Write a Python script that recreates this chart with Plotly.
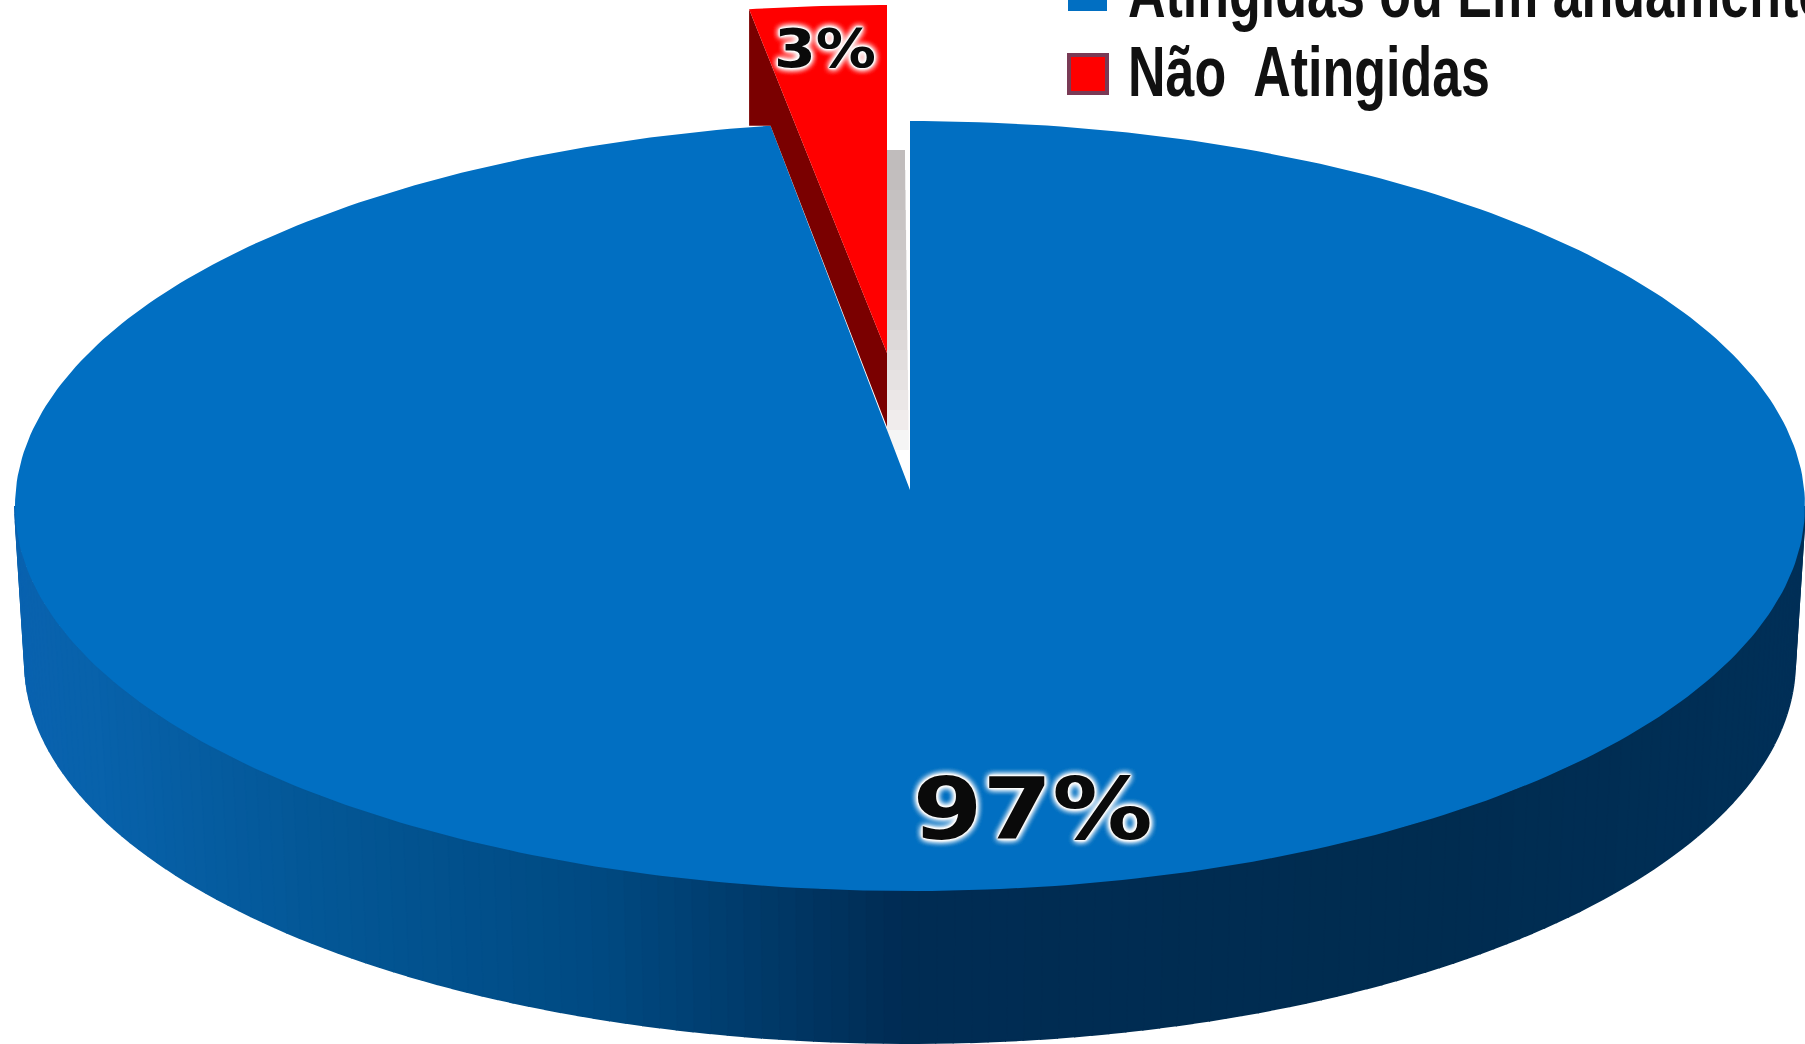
import numpy as np
import plotly.graph_objects as go

categories = ["Atingidas ou Em andamento", "Não  Atingidas"]
values = [97, 3]
colors = ["#016fc2", "#ff0000"]

W, H = 1805, 1044
CX, CY, A, B = 910, 506, 895, 385
APEX = (910, 490)
FORESHORTEN = 0.83
BASE = (910, 662, 885, 381)
SIDE_STOPS = [(14, (10, 98, 176)), (100, (8, 98, 171)), (300, (4, 88, 152)), (600, (0, 74, 130)),
              (900, (0, 44, 84)), (1420, (0, 44, 80)), (1805, (0, 48, 88))]

fig = go.Figure()


def poly(xs, ys, color, width=0):
    fig.add_trace(go.Scatter(x=list(xs), y=list(ys), mode="lines", fill="toself",
                             fillcolor=color, hoverinfo="skip", showlegend=False,
                             line=dict(color=color, width=width)))


def side_color(x):
    px = [s[0] for s in SIDE_STOPS]
    c = [np.interp(x, px, [s[1][i] for s in SIDE_STOPS]) for i in range(3)]
    return "rgb(%d,%d,%d)" % tuple(c)


# slice opening angle comes from the value
open_deg = values[1] / sum(values) * 360 * FORESHORTEN
open_rad = np.radians(open_deg)

# extruded side of the large slice
edges = np.radians(np.linspace(90, 270, 160))
for t0, t1 in zip(edges[:-1], edges[1:]):
    xs = [CX + A * np.sin(t0), CX + A * np.sin(t1), BASE[0] + BASE[2] * np.sin(t1), BASE[0] + BASE[2] * np.sin(t0)]
    ys = [CY - B * np.cos(t0), CY - B * np.cos(t1), BASE[1] - BASE[3] * np.cos(t1), BASE[1] - BASE[3] * np.cos(t0)]
    poly(xs, ys, side_color(np.mean(xs)), 2)

# soft grey shadow next to the pulled-out slice
bands = np.linspace(150, 450, 16)
for y0, y1 in zip(bands[:-1], bands[1:]):
    g = int(np.interp(y0, [150, 300, 450], [192, 214, 250]))
    x1 = np.interp(y0, [150, 450], [905, 909])
    poly([887, x1, x1, 887], [y0, y0, y1, y1], f"rgb({g},{g-4 if g < 245 else g},{g-4 if g < 245 else g})")

# top face of the large slice
arc = np.linspace(0, 2 * np.pi - open_rad, 400)
poly(np.r_[APEX[0], CX + A * np.sin(arc), APEX[0]],
     np.r_[APEX[1], CY - B * np.cos(arc), APEX[1]], colors[0])

# pulled-out small slice
RA = (887, 353)
RB, RW, RT = 348, 885, 74
rarc = np.linspace(0, open_rad, 20)
rx = RA[0] - RW * np.sin(rarc)
ry = RA[1] - RB * np.cos(rarc)
poly([rx[-1], RA[0], RA[0], CX + A * np.sin(-open_rad), rx[-1]],
     [ry[-1], RA[1], RA[1] + RT, CY - B * np.cos(open_rad), CY - B * np.cos(open_rad)], "#7a0000")
poly(np.r_[RA[0], rx, RA[0]], np.r_[RA[1], ry, RA[1]], colors[1])

# legend swatches
poly([1068, 1106, 1106, 1068], [0, 0, 10, 10], colors[0], 2)
fig.add_trace(go.Scatter(x=[1088], y=[74], mode="markers", hoverinfo="skip", showlegend=False,
                         marker=dict(symbol="square", size=38, color=colors[1], line=dict(color="#7a3a55", width=4))))

halo = ", ".join(["0 0 2px #fff"] * 6 + ["0 0 7px #fff"] * 4)
font_legend = dict(family="Liberation Sans", size=70, color="#111", weight=700)
fig.add_annotation(x=1126, y=0, yshift=7, text=categories[0], showarrow=False, xanchor="left",
                   yanchor="middle", font=font_legend)
fig.add_annotation(x=1126, y=72, text=categories[1], showarrow=False, xanchor="left",
                   yanchor="middle", font=font_legend)
fig.add_annotation(x=1032, y=809, text=f"{values[0]}%", showarrow=False,
                   font=dict(family="DejaVu Sans", size=85, color="#0a0a0a", weight=700, shadow=halo))
fig.add_annotation(x=825, y=48, text=f"{values[1]}%", showarrow=False,
                   font=dict(family="DejaVu Sans", size=53, color="#0a0a0a", weight=700, shadow=halo))

fig.update_layout(width=W, height=H, margin=dict(l=0, r=0, t=0, b=0), autosize=False,
                  paper_bgcolor="white", plot_bgcolor="white", showlegend=False,
                  xaxis=dict(range=[0, W], visible=False, fixedrange=True),
                  yaxis=dict(range=[H, 0], visible=False, fixedrange=True))

# page margin off, and stretch text to the reference's condensed / extended widths
post = """
document.body.style.margin = '0';
document.documentElement.style.overflow = 'hidden';
var widths = {'%s': [702, 1], '%s': [362, 1], '%s': [240, 0], '%s': [102, 0]};
document.querySelectorAll('text.annotation-text').forEach(function (t) {
  var w = widths[t.textContent.replace(/\\u00a0/g, ' ')];
  if (!w) return;
  if (w[1]) {
    var b = t.getBBox();
    t.setAttribute('text-anchor', 'start');
    t.setAttribute('x', b.x);
  }
  t.setAttribute('textLength', w[0]);
  t.setAttribute('lengthAdjust', 'spacingAndGlyphs');
});
""" % (categories[0], categories[1], f"{values[0]}%", f"{values[1]}%")
fig.write_html("out.html", config=dict(displayModeBar=False), post_script=post)
